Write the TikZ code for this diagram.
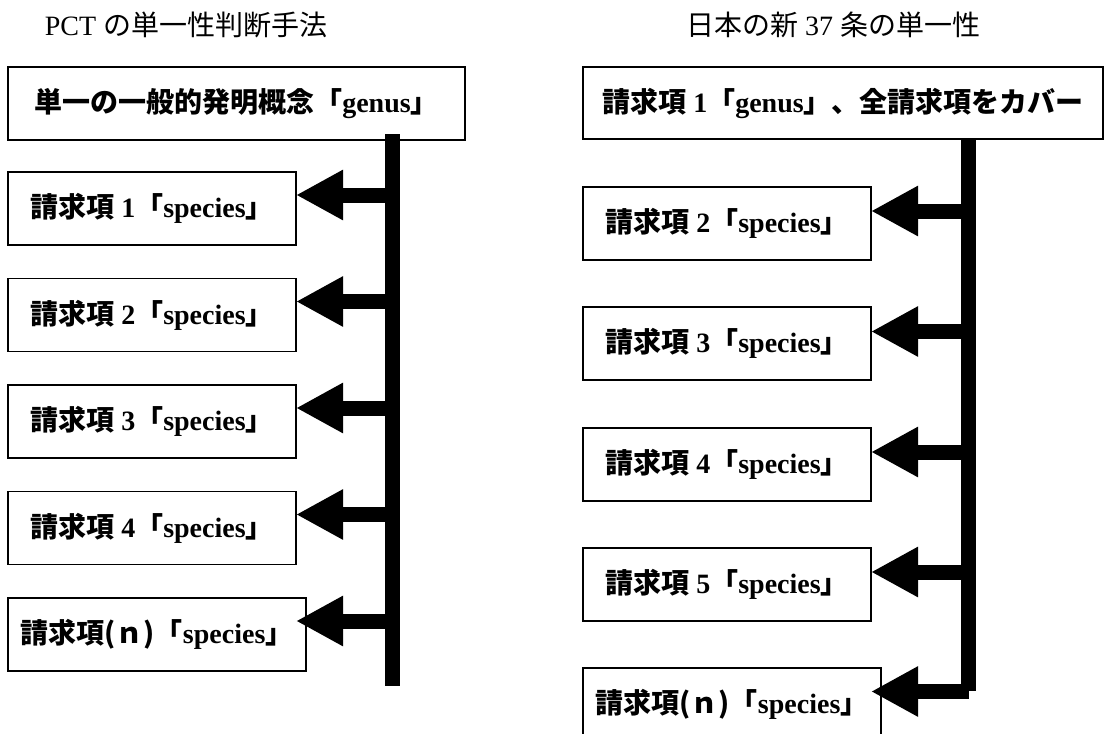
\documentclass[tikz,border=0pt]{standalone}
\usepackage{fontspec}
\setmainfont{Liberation Serif}
\newfontfamily\jp{Noto Sans CJK JP}
\usetikzlibrary{arrows.meta}
\begin{document}
\begin{tikzpicture}[x=1pt,y=-1pt,
  box/.style={draw, line width=1.5pt, fill=white, inner sep=0pt, outer sep=0pt,
    anchor=north west, font=\fontsize{28}{32}\selectfont\bfseries},
  sbox/.style={box, minimum width=288pt, minimum height=73pt},
  nbox/.style={box, minimum width=298pt, minimum height=73pt},
  ttl/.style={font=\fontsize{28}{30}\selectfont, inner sep=0pt},
  bar/.style={line width=15pt, line cap=butt},
  conn/.style={line width=15pt, -{Triangle[length=47pt,width=47pt]}}]
\useasboundingbox (0,0) rectangle (1104,734);
\clip (0,0) rectangle (1104,734);

% ---------------- left: PCT ----------------
\node[ttl] (tl) at (186,25) {PCT {\jp の単一性判断手法}};
\node[box, minimum width=457pt, minimum height=73pt] (g) at (8,67)
  {{\jp 単一の一般的発明概念「}genus{\jp 」}};
\node[sbox] (l1) at (8,172)   {{\jp 請求項} 1{\jp 「}species{\jp 」}};
\node[sbox] (l2) at (8,278.5) {{\jp 請求項} 2{\jp 「}species{\jp 」}};
\node[sbox] (l3) at (8,385)   {{\jp 請求項} 3{\jp 「}species{\jp 」}};
\node[sbox] (l4) at (8,491.5) {{\jp 請求項} 4{\jp 「}species{\jp 」}};
\node[nbox] (l5) at (8,598)   {{\jp 請求項(ｎ)「}species{\jp 」}};

\coordinate (lt) at (392.5,134);
\coordinate (lb) at (392.5,686);
\coordinate (la1) at (392.5,195);
\coordinate (la2) at (392.5,301.5);
\coordinate (la3) at (392.5,408);
\coordinate (la4) at (392.5,514.5);
\coordinate (la5) at (392.5,621);
\draw[bar] (lt) -- (lb);
\draw[conn] (la1) -- (la1 -| l1.east);
\draw[conn] (la2) -- (la2 -| l2.east);
\draw[conn] (la3) -- (la3 -| l3.east);
\draw[conn] (la4) -- (la4 -| l4.east);
\draw[conn] (la5) -- (la5 -| l4.east);

% ---------------- right: Japan ----------------
\node[ttl] (tr) at (833,25) {{\jp 日本の新}~37~{\jp 条の単一性}};
\node[box, minimum width=520pt, minimum height=72pt] (c1) at (583,67)
  {{\jp 請求項} 1{\jp 「}genus{\jp 」、全請求項をカバー}};
\node[sbox] (r2) at (583,187) {{\jp 請求項} 2{\jp 「}species{\jp 」}};
\node[sbox] (r3) at (583,307) {{\jp 請求項} 3{\jp 「}species{\jp 」}};
\node[sbox] (r4) at (583,428) {{\jp 請求項} 4{\jp 「}species{\jp 」}};
\node[sbox] (r5) at (583,548) {{\jp 請求項} 5{\jp 「}species{\jp 」}};
\node[nbox] (rn) at (583,668) {{\jp 請求項(ｎ)「}species{\jp 」}};

\coordinate (rt) at (968.5,139);
\coordinate (rb) at (968.5,691);
\coordinate (ra2) at (968.5,211);
\coordinate (ra3) at (968.5,331.5);
\coordinate (ra4) at (968.5,452);
\coordinate (ra5) at (968.5,572);
\coordinate (ran) at (968.5,691.5);
\draw[bar] (rt) -- (rb);
\draw[conn] (ra2) -- (ra2 -| r2.east);
\draw[conn] (ra3) -- (ra3 -| r3.east);
\draw[conn] (ra4) -- (ra4 -| r4.east);
\draw[conn] (ra5) -- (ra5 -| r5.east);
\draw[conn] (ran) -- (ran -| r5.east);
\end{tikzpicture}
\end{document}
